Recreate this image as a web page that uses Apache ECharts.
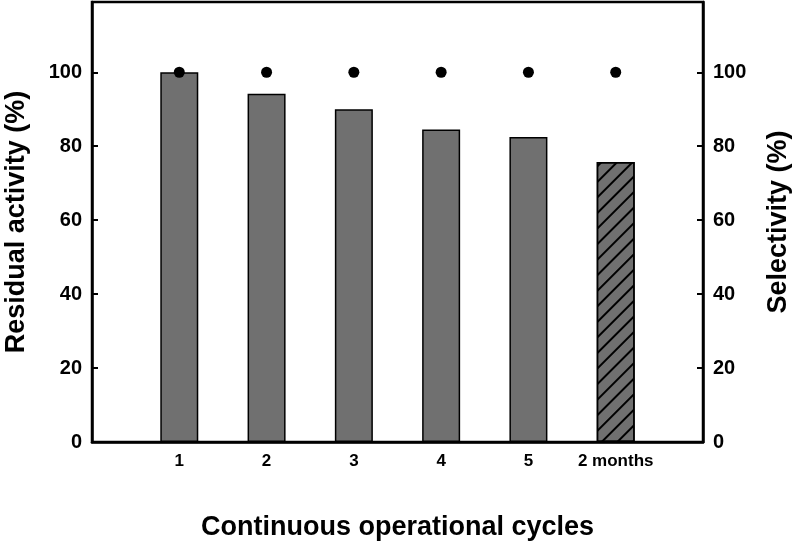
<!DOCTYPE html>
<html>
<head>
<meta charset="utf-8">
<script src="https://cdn.jsdelivr.net/npm/echarts@6/dist/echarts.min.js"></script>
<style>
  html, body { margin: 0; padding: 0; background: #fff; }
  #chart { width: 800px; height: 547px; }
</style>
</head>
<body>
<div id="chart"></div>
<script>
// cycle labels, placed at positions 1..6 on the x axis (0..7)
const cycleLabels = ['1', '2', '3', '4', '5', '2 months'];
const cyclePositions = [1, 2, 3, 4, 5, 6];
const residualActivity = [100, 94.2, 90.0, 84.5, 82.5, 75.7];
const selectivity = [100, 100, 100, 100, 100, 100];
const yTicks = [0, 20, 40, 60, 80, 100];

const font = 'Liberation Sans, Arial, sans-serif';

const barData = cyclePositions.map((x, i) => {
  const item = { value: [x, residualActivity[i]] };
  if (cycleLabels[i] === '2 months') {
    item.itemStyle = {
      decal: {
        symbol: 'rect',
        color: '#000',
        backgroundColor: null,
        dashArrayX: [1, 0],
        dashArrayY: [1.3, 9],
        rotation: -Math.PI / 4,
      },
    };
  }
  return item;
});

const dotData = cyclePositions.map((x, i) => [x, selectivity[i]]);

const valueAxis = (name, pos) => ({
  type: 'value',
  position: pos,
  min: 0,
  max: 119,
  interval: 20,
  name: name,
  nameLocation: 'middle',
  nameRotate: 90,
  nameGap: 62,
  nameTextStyle: { fontFamily: font, fontWeight: 'bold', fontSize: 27, color: '#000' },
  axisLine: { show: true, lineStyle: { color: '#000', width: 2.5 } },
  axisTick: { show: true, inside: true, length: 6, lineStyle: { color: '#000', width: 2 } },
  axisLabel: {
    fontFamily: font, fontWeight: 'bold', fontSize: 20, color: '#000', margin: 10,
    formatter: v => (yTicks.includes(v) ? String(v) : ''),
  },
  splitLine: { show: false },
});

const chart = echarts.init(document.getElementById('chart'), null, { renderer: 'canvas' });

chart.setOption({
  animation: false,
  backgroundColor: '#fff',
  grid: {
    left: 92, right: 97, top: 2, bottom: 105,
    outerBoundsMode: 'none',
    containLabel: false,
    show: true, borderColor: '#000', borderWidth: 2.5, backgroundColor: 'transparent',
  },
  xAxis: {
    type: 'value',
    min: 0,
    max: 7,
    interval: 1,
    name: 'Continuous operational cycles',
    nameLocation: 'middle',
    nameGap: 72,
    nameTextStyle: { fontFamily: font, fontWeight: 'bold', fontSize: 27, color: '#000' },
    axisLine: { show: true, lineStyle: { color: '#000', width: 2.5 } },
    axisTick: { show: false },
    axisLabel: {
      fontFamily: font, fontWeight: 'bold', fontSize: 17, color: '#000', margin: 11,
      formatter: v => {
        const i = cyclePositions.indexOf(v);
        return i >= 0 ? cycleLabels[i] : '';
      },
    },
    splitLine: { show: false },
  },
  yAxis: [
    valueAxis('Residual activity (%)', 'left'),
    valueAxis('Selectivity (%)', 'right'),
  ],
  series: [
    {
      type: 'bar',
      yAxisIndex: 0,
      barWidth: 38,
      data: barData,
      itemStyle: { color: '#707070', borderColor: '#000', borderWidth: 1.5 },
    },
    {
      type: 'scatter',
      yAxisIndex: 1,
      symbol: 'circle',
      symbolSize: 11,
      data: dotData,
      itemStyle: { color: '#000', opacity: 1 },
      z: 5,
    },
  ],
});
</script>
</body>
</html>
